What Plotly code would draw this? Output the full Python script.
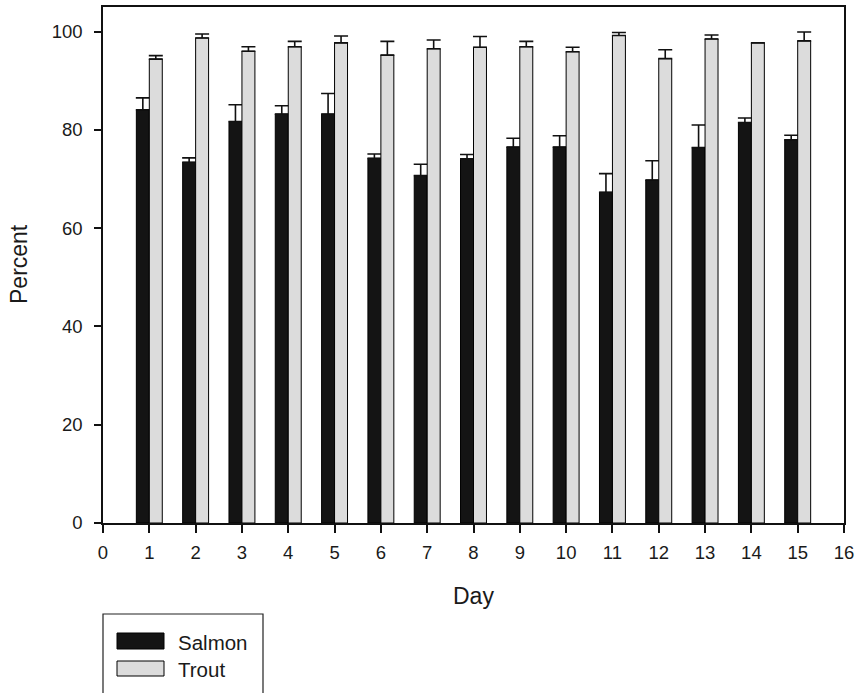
import plotly.graph_objects as go

# Daily percentages for the two species, with the upper error (SE) for each bar
days = list(range(1, 16))
salmon = [84.1, 73.4, 81.7, 83.2, 83.2, 74.2, 70.7, 74.1, 76.5, 76.5, 67.3, 69.8, 76.4, 81.5, 78.0]
salmon_err = [2.4, 0.9, 3.4, 1.7, 4.2, 0.9, 2.3, 0.9, 1.8, 2.3, 3.8, 3.9, 4.6, 0.9, 0.9]
trout = [94.4, 98.7, 96.0, 96.9, 97.7, 95.2, 96.5, 96.8, 96.9, 95.9, 99.2, 94.5, 98.5, 97.7, 98.1]
trout_err = [0.7, 0.8, 0.9, 1.1, 1.4, 2.8, 1.8, 2.2, 1.1, 0.9, 0.6, 1.8, 0.8, None, 1.8]

x_ticks = list(range(0, 17))
y_ticks = [0, 20, 40, 60, 80, 100]

W, H = 861, 693
ML, MR, MT, MB = 103, 17, 7, 170
PW, PH = W - ML - MR, H - MT - MB

SALMON_FILL = "#141414"
TROUT_FILL = "#dcdcdc"
FONT = "Liberation Sans, Arial, sans-serif"


def px(x):
    return (x - ML) / PW


def py(y):
    return (H - MB - y) / PH


def upper_only(err):
    return dict(
        type="data",
        symmetric=False,
        array=err,
        arrayminus=[0 if e is not None else None for e in err],
        color="#111111",
        thickness=1.6,
        width=7,
    )


fig = go.Figure()
fig.add_trace(go.Bar(
    name="Salmon", x=days, y=salmon,
    marker=dict(color=SALMON_FILL, line=dict(color="#000000", width=1)),
    error_y=upper_only(salmon_err), showlegend=False,
))
fig.add_trace(go.Bar(
    name="Trout", x=days, y=trout,
    marker=dict(color=TROUT_FILL, line=dict(color="#000000", width=1)),
    error_y=upper_only(trout_err), showlegend=False,
))

axis_common = dict(
    showgrid=False, zeroline=False, showline=True, mirror=True,
    linecolor="#111111", linewidth=1.5,
    ticks="outside", tickcolor="#111111", tickwidth=1.5,
    tickfont=dict(family=FONT, size=18.5, color="#1a1a1a"),
)

fig.update_xaxes(range=[0, 16], tickvals=x_ticks, ticklen=8,
                 ticklabelstandoff=4, **axis_common)
fig.update_yaxes(range=[0, 105], tickvals=y_ticks, ticklen=7,
                 ticklabelstandoff=8, **axis_common)

# Axis titles
annotations = [
    dict(text="Day", x=px(474), y=py(596), xref="paper", yref="paper",
         showarrow=False, xanchor="center", yanchor="middle",
         font=dict(family=FONT, size=23, color="#1a1a1a")),
    dict(text="Percent", x=px(19), y=py(264), xref="paper", yref="paper",
         showarrow=False, xanchor="center", yanchor="middle", textangle=-90,
         font=dict(family=FONT, size=23, color="#1a1a1a")),
]

# Legend box with swatches and labels
shapes = [
    dict(type="rect", xref="paper", yref="paper",
         x0=px(103), x1=px(263), y0=py(700), y1=py(614),
         line=dict(color="#222222", width=1.2), fillcolor="rgba(0,0,0,0)"),
    dict(type="rect", xref="paper", yref="paper",
         x0=px(117), x1=px(164), y0=py(649), y1=py(633),
         line=dict(color="#000000", width=1), fillcolor=SALMON_FILL),
    dict(type="rect", xref="paper", yref="paper",
         x0=px(117), x1=px(164), y0=py(676), y1=py(661),
         line=dict(color="#000000", width=1), fillcolor=TROUT_FILL),
]
for label, yc in (("Salmon", 642), ("Trout", 669)):
    annotations.append(dict(
        text=label, x=px(176), y=py(yc), xref="paper", yref="paper",
        showarrow=False, xanchor="left", yanchor="middle",
        font=dict(family=FONT, size=20.5, color="#1a1a1a"),
    ))

fig.update_layout(
    width=W, height=H,
    margin=dict(l=ML, r=MR, t=MT, b=MB, autoexpand=False),
    paper_bgcolor="white", plot_bgcolor="white",
    barmode="group", bargap=0.44, bargroupgap=0,
    showlegend=False,
    annotations=annotations, shapes=shapes,
)

fig.write_html("out.html")
